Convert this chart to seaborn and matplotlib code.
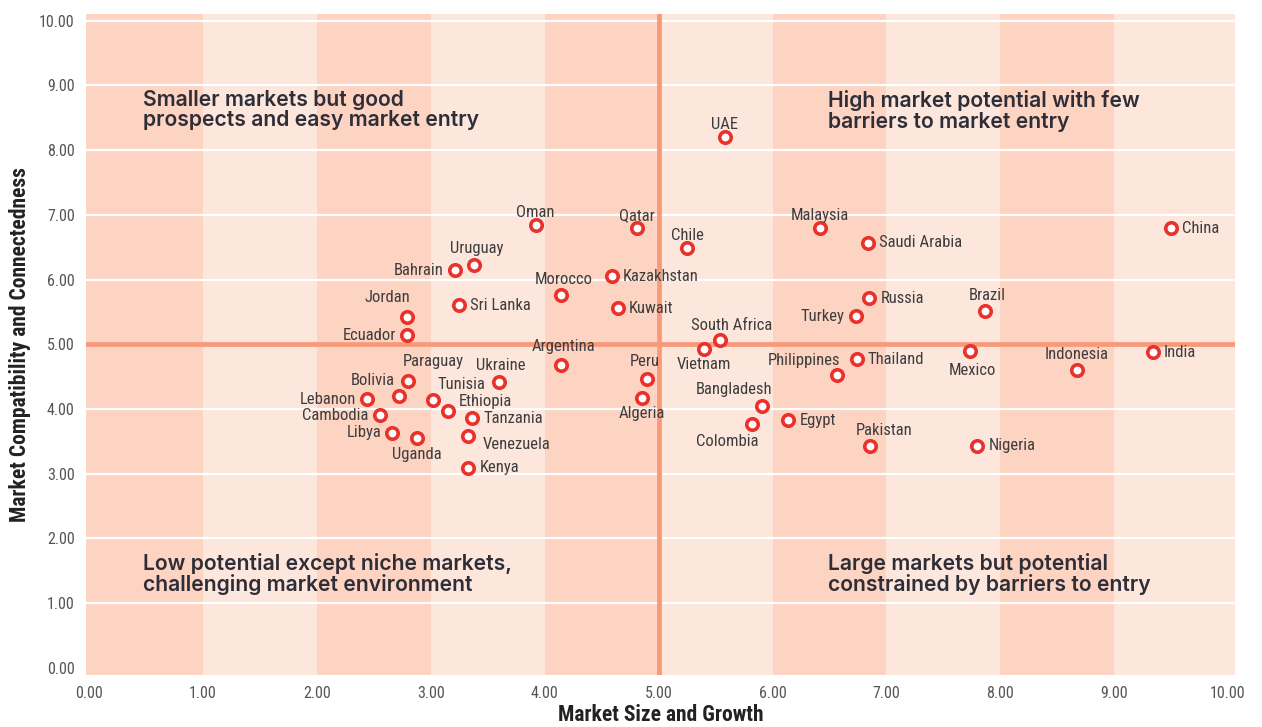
import numpy as np
import pandas as pd
import matplotlib.pyplot as plt
import seaborn as sns

countries = ['UAE', 'Oman', 'Qatar', 'Chile', 'Malaysia', 'Saudi Arabia', 'China',
             'Uruguay', 'Bahrain', 'Kazakhstan', 'Morocco', 'Sri Lanka', 'Kuwait',
             'Russia', 'Brazil', 'Turkey', 'Jordan', 'Ecuador', 'South Africa',
             'Vietnam', 'India', 'Mexico', 'Thailand', 'Argentina', 'Philippines',
             'Indonesia', 'Peru', 'Paraguay', 'Ukraine', 'Algeria', 'Lebanon',
             'Bolivia', 'Tunisia', 'Ethiopia', 'Bangladesh', 'Cambodia', 'Tanzania',
             'Egypt', 'Colombia', 'Libya', 'Uganda', 'Venezuela', 'Pakistan',
             'Nigeria', 'Kenya']
market_size = [5.58, 3.92, 4.81, 5.25, 6.42, 6.84, 9.50,
               3.38, 3.21, 4.59, 4.14, 3.25, 4.64,
               6.85, 7.87, 6.73, 2.79, 2.79, 5.54,
               5.40, 9.34, 7.73, 6.74, 4.14, 6.57,
               8.67, 4.90, 2.80, 3.60, 4.85, 2.44,
               2.72, 3.02, 3.15, 5.91, 2.55, 3.36,
               6.14, 5.82, 2.66, 2.88, 3.33, 6.86,
               7.80, 3.33]
compatibility = [8.21, 6.85, 6.80, 6.48, 6.79, 6.57, 6.79,
                 6.22, 6.14, 6.05, 5.76, 5.60, 5.56,
                 5.71, 5.52, 5.43, 5.42, 5.14, 5.06,
                 4.92, 4.88, 4.89, 4.77, 4.68, 4.52,
                 4.60, 4.46, 4.43, 4.41, 4.17, 4.15,
                 4.20, 4.14, 3.97, 4.04, 3.90, 3.86,
                 3.83, 3.77, 3.63, 3.55, 3.58, 3.43,
                 3.43, 3.09]

quadrant_text = {
    'tl': 'Smaller markets but good\nprospects and easy market entry',
    'tr': 'High market potential with few\nbarriers to market entry',
    'bl': 'Low potential except niche markets,\nchallenging market environment',
    'br': 'Large markets but potential\nconstrained by barriers to entry',
}

# label placement: (dx, dy) in points, horizontal alignment
label_pos = {
    'UAE': (0, 9, 'center'), 'Oman': (0, 9, 'center'), 'Qatar': (0, 9, 'center'),
    'Chile': (0, 9, 'center'), 'Malaysia': (0, 9, 'center'),
    'Saudi Arabia': (8, 0, 'left'), 'China': (8, 0, 'left'),
    'Uruguay': (2, 12, 'center'), 'Bahrain': (-8, 0, 'right'),
    'Kazakhstan': (8, 0, 'left'), 'Morocco': (2, 11, 'center'),
    'Sri Lanka': (8, 0, 'left'), 'Kuwait': (8, 0, 'left'), 'Russia': (8, 0, 'left'),
    'Brazil': (1, 11, 'center'), 'Turkey': (-8, 0, 'right'),
    'Jordan': (-14, 14, 'center'), 'Ecuador': (-8, 0, 'right'),
    'South Africa': (8, 11, 'center'), 'Vietnam': (0, -11, 'center'),
    'India': (8, 0, 'left'), 'Mexico': (2, -14, 'center'), 'Thailand': (8, 0, 'left'),
    'Argentina': (2, 13, 'center'), 'Philippines': (2, 11, 'right'),
    'Indonesia': (0, 11, 'center'), 'Peru': (-2, 13, 'center'),
    'Paraguay': (-4, 14, 'left'), 'Ukraine': (1, 12, 'center'),
    'Algeria': (0, -11, 'center'), 'Lebanon': (-8, 0, 'right'),
    'Bolivia': (-3, 11, 'right'), 'Tunisia': (3, 11, 'left'), 'Ethiopia': (8, 7, 'left'),
    'Bangladesh': (-20, 12, 'center'), 'Cambodia': (-8, 0, 'right'),
    'Tanzania': (8, 0, 'left'), 'Egypt': (8, 0, 'left'), 'Colombia': (-18, -13, 'center'),
    'Libya': (-8, 0, 'right'), 'Uganda': (0, -12, 'center'),
    'Venezuela': (10, -6, 'left'), 'Pakistan': (10, 11, 'center'),
    'Nigeria': (8, 0, 'left'), 'Kenya': (8, 0, 'left'),
}

df = pd.DataFrame({'country': countries, 'size': market_size, 'compat': compatibility})

sns.set_style('white')
label_font = ['Roboto Condensed', 'DejaVu Sans']
head_font = ['Inter', 'DejaVu Sans']
text_col = '#3d3d3d'

fig = plt.figure(figsize=(12.62, 7.27), dpi=100)
ax = fig.add_axes([0.068, 0.0715, 0.9105, 0.909])

dark_band, light_band = '#fdd3c2', '#fde6dc'
for i in range(10):
    ax.axvspan(i, i + 1, color=dark_band if i % 2 == 0 else light_band, lw=0, zorder=0)
ax.axvspan(-0.05, 0, color=dark_band, lw=0, zorder=0)
ax.axvspan(10, 10.06, color=light_band, lw=0, zorder=0)

for yv in range(1, 11):
    if yv != 5:
        ax.axhline(yv, color='white', lw=1.6, zorder=1)
ax.axhline(5, color='#f8997a', lw=3.4, zorder=1)
ax.axvline(5, color='#f8997a', lw=3.4, zorder=1)

sns.scatterplot(data=df, x='size', y='compat', ax=ax, s=68, color='white',
                edgecolor='#e8322b', linewidth=2.6, zorder=3, legend=False)

for c, x, y in zip(countries, market_size, compatibility):
    dx, dy, ha = label_pos[c]
    ax.annotate(c, (x, y), xytext=(dx, dy), textcoords='offset points',
                ha=ha, va='center', fontsize=12, color=text_col,
                family=label_font, zorder=4)

head_col = '#2e2e38'
qkw = dict(fontsize=15.2, color=head_col, fontweight=600, va='top', ha='left',
           linespacing=1.0, family=head_font, zorder=4)
ax.text(0.47, 8.93, quadrant_text['tl'], **qkw)
ax.text(6.49, 8.93, quadrant_text['tr'], **qkw)
ax.text(0.47, 1.77, quadrant_text['bl'], **qkw)
ax.text(6.49, 1.77, quadrant_text['br'], **qkw)

ax.set_xlim(-0.03, 10.06)
ax.set_ylim(-0.11, 10.1)
ax.set_xticks(np.arange(0, 11))
ax.set_yticks(np.arange(0, 11))
ax.set_xticklabels([f'{v:.2f}' for v in range(11)], family=label_font, fontsize=11.5, color='#555555')
ax.set_yticklabels([f'{v:.2f}' for v in range(11)], family=label_font, fontsize=11.5, color='#555555')
ax.tick_params(length=0, pad=8)
ax.set_xlabel('Market Size and Growth', family=label_font, fontsize=15.5,
              fontweight='bold', color='#222222', labelpad=2)
ax.set_ylabel('Market Compatibility and Connectedness', family=label_font, fontsize=15.5,
              fontweight='bold', color='#222222', labelpad=6)
for s in ax.spines.values():
    s.set_visible(False)

fig.savefig('out.png', dpi=100)
